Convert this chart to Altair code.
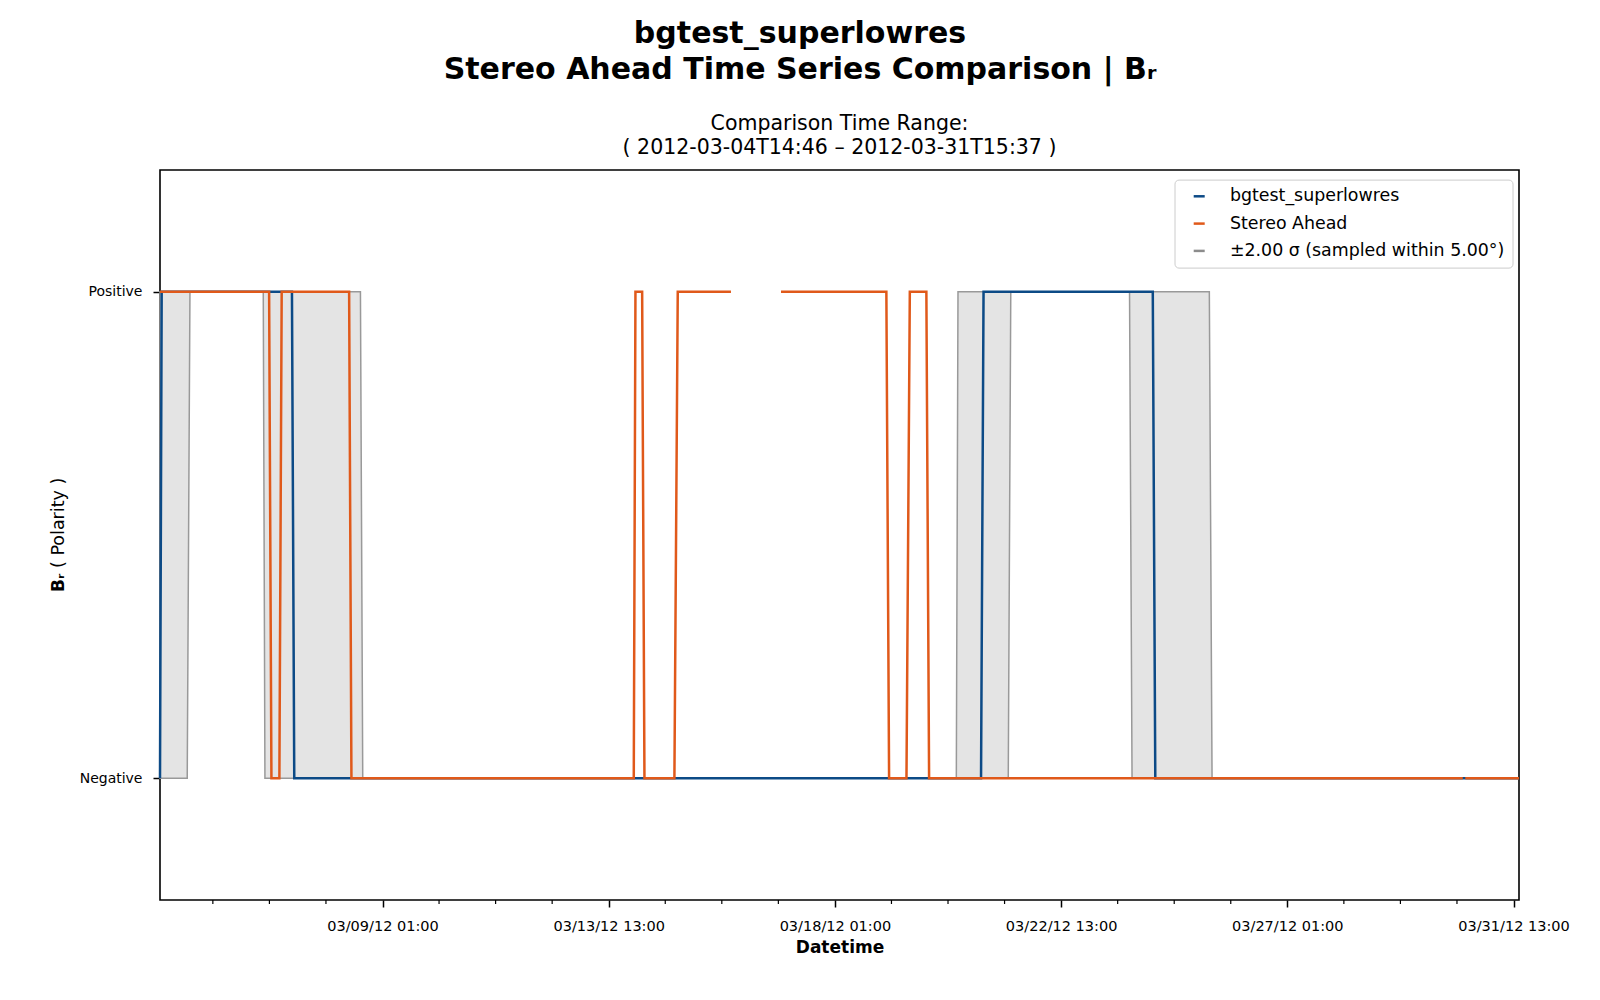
import altair as alt
import pandas as pd

# ---------------- data ----------------
START = "2012-03-04 14:46"
END = "2012-03-31 15:37"

# model series (hours after START, polarity value)
model_hours = [0, 0.8, 63.0, 64.1, 392.0, 393.2, 474.0, 475.2, 648.85]
model_vals = [-1, 1, 1, -1, -1, 1, 1, -1, -1]

# observed series (None = missing data)
obs_hours = [0, 52.1, 53.2, 57.0, 58.1, 90.3, 91.4, 226.2, 227.0, 230.2, 231.3,
             245.6, 247.2, 272.6, 284.5, 296.5, 346.8, 348.1, 356.4, 358.0,
             365.9, 367.2, 622.0, 622.6, 623.2, 648.85]
obs_vals = [1, 1, -1, -1, 1, 1, -1, -1, 1, 1, -1,
            -1, 1, 1, None, 1, 1, -1, -1, 1,
            1, -1, -1, None, -1, -1]

# +/- 2 sigma band bounds
band_hours = [0, 13.0, 14.3, 49.3, 50.1, 95.7, 96.8, 380.2, 381.0, 405.0,
              406.2, 462.9, 464.1, 501.0, 502.3, 648.85]
band_lower = [-1, -1, 1, 1, -1, -1, -1, -1, -1, -1, 1, 1, -1, -1, -1, -1]
band_upper = [1, 1, 1, 1, 1, 1, -1, -1, 1, 1, 1, 1, 1, 1, -1, -1]

major_ticks = ["2012-03-09 01:00", "2012-03-13 13:00", "2012-03-18 01:00",
               "2012-03-22 13:00", "2012-03-27 01:00", "2012-03-31 13:00"]
minor_ticks = ["2012-03-05 16:00", "2012-03-06 19:00", "2012-03-07 22:00",
               "2012-03-10 04:00", "2012-03-11 07:00", "2012-03-12 10:00",
               "2012-03-14 16:00", "2012-03-15 19:00", "2012-03-16 22:00",
               "2012-03-19 04:00", "2012-03-20 07:00", "2012-03-21 10:00",
               "2012-03-23 16:00", "2012-03-24 19:00", "2012-03-25 22:00",
               "2012-03-28 04:00", "2012-03-29 07:00", "2012-03-30 10:00"]

series_names = ["bgtest_superlowres", "Stereo Ahead", "±2.00 σ (sampled within 5.00°)"]
series_colors = ["#0c4a86", "#e0591a", "#8c8c8c"]

title_lines = ["bgtest_superlowres", "Stereo Ahead Time Series Comparison | Bᵣ"]
sub_lines = ["Comparison Time Range:", "( 2012-03-04T14:46 – 2012-03-31T15:37 )"]

FONT = "DejaVu Sans"
W, H = 1359, 730

# ---------------- tables ----------------
t0 = pd.Timestamp(START)


def to_time(hours):
    return [t0 + pd.Timedelta(hours=h) for h in hours]


model_df = pd.DataFrame({"time": to_time(model_hours), "value": model_vals,
                         "series": series_names[0]})
obs_df = pd.DataFrame({"time": to_time(obs_hours),
                       "value": pd.array(obs_vals, dtype="Float64").astype(float),
                       "series": series_names[1]})
band_df = pd.DataFrame({"time": to_time(band_hours), "lower": band_lower,
                        "upper": band_upper})
minor_df = pd.DataFrame({"time": pd.to_datetime(minor_ticks)})


def dt(s):
    ts = pd.Timestamp(s)
    return alt.DateTime(year=ts.year, month=ts.month, date=ts.day,
                        hours=ts.hour, minutes=ts.minute)


x_axis = alt.Axis(values=[dt(s) for s in major_ticks], format="%m/%d/%y %H:%M",
                  title="Datetime", titleFont=FONT, titleFontSize=17,
                  titleFontWeight="bold", titleColor="black", titlePadding=7,
                  labelFont=FONT, labelFontSize=14.5, labelColor="black",
                  labelPadding=12, labelFlush=False, labelOverlap=False,
                  tickSize=7, tickWidth=1.5, tickColor="black", domain=False,
                  grid=False)
x_scale = alt.Scale(domain=[dt(START), dt(END)], nice=False)

y_axis = alt.Axis(values=[-1, 1], title=None,
                  labelExpr="datum.value > 0 ? 'Positive' : 'Negative'",
                  labelFont=FONT, labelFontSize=14, labelColor="black",
                  labelPadding=11, tickSize=7, tickWidth=1.5, tickColor="black",
                  domain=False, grid=False)
y_scale = alt.Scale(domain=[-1.5, 1.5], nice=False, zero=False)

X = alt.X("time:T", scale=x_scale, axis=x_axis)

color_enc = alt.Color(
    "series:N",
    scale=alt.Scale(domain=series_names, range=series_colors),
    legend=alt.Legend(title=None, orient="none", legendX=1014.5, legendY=9.6,
                      symbolType="stroke", symbolSize=121, symbolStrokeWidth=2.5,
                      labelFont=FONT, labelFontSize=17.4, labelColor="black",
                      labelLimit=0, padding=8, rowPadding=8.3, labelOffset=22,
                      symbolOffset=8, strokeColor="#cccccc", fillColor="white",
                      cornerRadius=4),
)

band = alt.Chart(band_df).mark_area(fill="#e4e4e4", stroke="#999999",
                                    strokeWidth=1.5).encode(
    x=X,
    y=alt.Y("lower:Q", scale=y_scale, axis=y_axis),
    y2="upper:Q",
)

model_line = alt.Chart(model_df).mark_line(strokeWidth=2.5).encode(
    x=X, y=alt.Y("value:Q", scale=y_scale, axis=y_axis), color=color_enc)

obs_line = alt.Chart(obs_df).mark_line(strokeWidth=2.5).encode(
    x=X, y=alt.Y("value:Q", scale=y_scale, axis=y_axis), color=color_enc)

minor = alt.Chart(minor_df).mark_rule(color="black", strokeWidth=1.2).encode(
    x=X, y=alt.value(H), y2=alt.value(H + 4))


def text_layer(txt, x, y, size, weight="normal", angle=0, align="center"):
    return alt.Chart(pd.DataFrame({"t": [txt]})).mark_text(
        font=FONT, fontSize=size, fontWeight=weight, color="black",
        angle=angle, align=align, baseline="middle").encode(
        text="t:N", x=alt.value(x), y=alt.value(y))


sub1 = text_layer(sub_lines[0], W / 2, -46.5, 20.5)
sub2 = text_layer(sub_lines[1], W / 2, -22.5, 20.5)
ylab1 = text_layer("Bᵣ", -101, 422, 17, weight="bold", angle=270, align="left")
ylab2 = text_layer("( Polarity )", -101, 398, 17.5, angle=270, align="left")

chart = alt.layer(band, model_line, obs_line, minor, sub1, sub2, ylab1, ylab2).properties(
    width=W, height=H,
    background="white",
    title=alt.TitleParams(text=title_lines, font=FONT, fontSize=30,
                          fontWeight="bold", color="black", anchor="middle",
                          dx=-39.5, lineHeight=36.7, offset=28),
    autosize=alt.AutoSizeParams(type="none"),
    padding={"left": 160, "top": 170, "right": 81, "bottom": 100},
).configure_view(stroke="black", strokeWidth=1.6)

chart.save("out.html", embed_options={"renderer": "svg", "actions": False})
